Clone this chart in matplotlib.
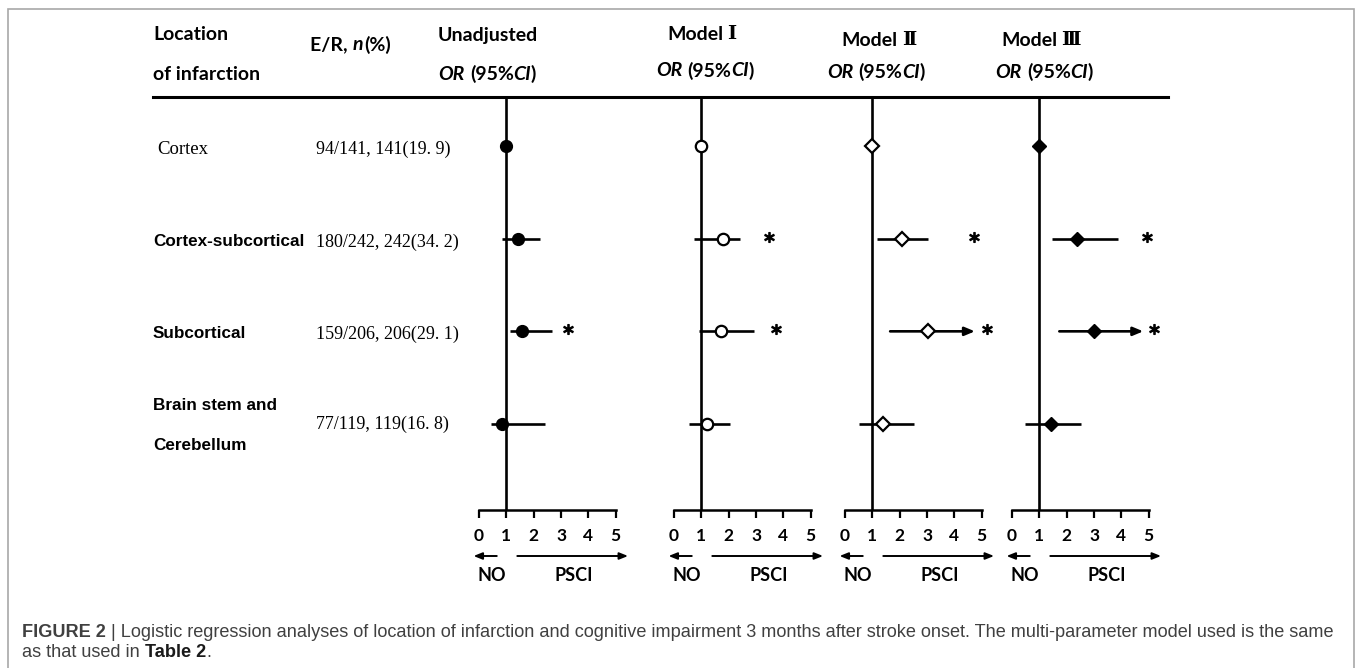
import matplotlib
matplotlib.use("Agg")
import matplotlib.pyplot as plt
from matplotlib.lines import Line2D
from matplotlib.patches import Rectangle

# ---------------- data ----------------
locations = ["Cortex", "Cortex-subcortical", "Subcortical", "Brain stem and\nCerebellum"]
er_text = ["94/141, 141(19. 9)", "180/242, 242(34. 2)", "159/206, 206(29. 1)", "77/119, 119(16. 8)"]
models = ["Unadjusted", "Model Ⅰ", "Model Ⅱ", "Model Ⅲ"]

# odds ratios (reference = 1), CI lower/upper (None for reference)
or_unadj = [1.0, 1.43, 1.58, 0.85]
lo_unadj = [None, 0.85, 1.15, 0.43]
hi_unadj = [None, 2.22, 2.67, 2.40]

or_m1 = [1.0, 1.78, 1.73, 1.19]
lo_m1 = [None, 0.72, 0.91, 0.56]
hi_m1 = [None, 2.42, 2.92, 2.04]

or_m2 = [1.0, 2.07, 3.05, 1.39]
lo_m2 = [None, 1.18, 1.65, 0.50]
hi_m2 = [None, 3.05, 4.75, 2.51]

or_m3 = [1.0, 2.38, 2.99, 1.44]
lo_m3 = [None, 1.47, 1.73, 0.47]
hi_m3 = [None, 3.89, 4.80, 2.53]

truncated_m2 = [False, False, True, False]
truncated_m3 = [False, False, True, False]
no_trunc = [False, False, False, False]

# significance stars (x position of the star, None = not significant)
star_unadj = [None, None, 3.25, None]
star_m1 = [None, 3.48, 3.73, None]
star_m2 = [None, 4.71, 5.21, None]
star_m3 = [None, 4.92, 5.18, None]

ticks = [0, 1, 2, 3, 4, 5]

# ---------------- layout ----------------
W, H = 1359, 668
fig = plt.figure(figsize=(W / 100, H / 100), dpi=100)
fig.patch.set_facecolor("white")


def fx(x):
    return x / W


def fy(y):
    return 1 - y / H


HEAD = ["Lato", "DejaVu Serif"]
SERIF = ["Liberation Serif"]
SANS = ["Liberation Sans"]

# outer border
fig.add_artist(Rectangle((fx(8), fy(700)), fx(1354) - fx(8), fy(9) - fy(700),
                         transform=fig.transFigure, fill=False,
                         edgecolor="#a8a8a8", lw=1.2))

# header rule
fig.add_artist(Line2D([fx(153), fx(1168)], [fy(97), fy(97)],
                      transform=fig.transFigure, color="black", lw=2.2))

renderer = fig.canvas.get_renderer()


def rich(xc, yc, pieces, size, ha="center", va="center", color="black"):
    """pieces: list of (text, weight, style, family, extra_gap_before)"""
    arts = []
    widths = []
    for (s, weight, style, fam, g) in pieces:
        t = fig.text(0, 0, s, fontsize=size, fontweight=weight, fontstyle=style,
                     family=fam, va=va, ha="left", color=color,
                     transform=fig.transFigure)
        w = t.get_window_extent(renderer).width
        arts.append((t, g))
        widths.append(w)
    total = sum(widths) + sum(g for (_, g) in arts)
    x = xc - total / 2 if ha == "center" else xc
    for (t, g), w in zip(arts, widths):
        x += g
        t.set_position((fx(x), fy(yc)))
        x += w
    return arts


# header texts
hs = 14
rich(153, 35, [("Location", "bold", "normal", HEAD, 0)], hs, ha="left")
rich(153, 74, [("of infarction", "bold", "normal", HEAD, 0)], hs, ha="left")
rich(310, 45, [("E/R, ", "bold", "normal", HEAD, 0), ("n", "bold", "italic", HEAD, 0),
               ("(%)", "bold", "normal", HEAD, 1)], hs, ha="left")

head_x = [488, 702, 879, 1041]
head_y = [35, 34, 40, 40]
or_x = [487, 705, 876, 1044]
or_y = [74, 71, 72, 72]
for m, hx, hy, ox, oy in zip(models, head_x, head_y, or_x, or_y):
    if " " in m:
        a, b = m.split(" ")
        rich(hx, hy, [(a, "bold", "normal", HEAD, 0), (b, "bold", "normal", ["DejaVu Serif"], 4)], hs)
    else:
        rich(hx, hy, [(m, "bold", "normal", HEAD, 0)], hs)
    rich(ox, oy, [("OR", "bold", "italic", HEAD, 0), ("(95%", "bold", "normal", HEAD, 5),
                  ("CI", "bold", "italic", HEAD, 0), (")", "bold", "normal", HEAD, -1)], hs)

# row labels
row_y = [146, 242, 334, 424]
fig.text(fx(157), fy(row_y[0] + 3), locations[0], family=SERIF, fontsize=13.5,
         va="center", ha="left")
for i in (1, 2):
    fig.text(fx(153), fy(row_y[i]), locations[i], family=SANS, fontsize=12.3,
             fontweight="bold", va="center", ha="left")
l1, l2 = locations[3].split("\n")
fig.text(fx(153), fy(405), l1, family=SANS, fontsize=12.3, fontweight="bold",
         va="center", ha="left")
fig.text(fx(153), fy(446), l2, family=SANS, fontsize=12.3, fontweight="bold",
         va="center", ha="left")
for i, s in enumerate(er_text):
    fig.text(fx(316), fy(row_y[i] + 3 if i == 0 else row_y[i]), s, family=SERIF,
             fontsize=13, va="center", ha="left")

# panels
panel_x0 = [479, 674, 845, 1012]
S = 27.35
R0, RSTEP = 146, 92.67
TOP, BOT = 97, 510


def py(p):
    return (p - R0) / RSTEP


panels = [
    (or_unadj, lo_unadj, hi_unadj, no_trunc, star_unadj, dict(marker="o", mfc="black", mec="black", ms=8.5)),
    (or_m1, lo_m1, hi_m1, no_trunc, star_m1, dict(marker="o", mfc="white", mec="black", ms=8.2, mew=1.6)),
    (or_m2, lo_m2, hi_m2, truncated_m2, star_m2, dict(marker="D", mfc="white", mec="black", ms=7.4, mew=1.6)),
    (or_m3, lo_m3, hi_m3, truncated_m3, star_m3, dict(marker="D", mfc="black", mec="black", ms=7.6)),
]

XL, XR = -0.8, 5.8
for (orv, lo, hi, trunc, stars, mk), x0 in zip(panels, panel_x0):
    left = x0 + XL * S
    width = (XR - XL) * S
    ax = fig.add_axes([fx(left), fy(BOT), width / W, (BOT - TOP) / H])
    ax.set_xlim(XL, XR)
    ax.set_ylim(py(BOT), py(TOP))
    ax.patch.set_visible(False)
    for sp in ("top", "left", "right"):
        ax.spines[sp].set_visible(False)
    ax.spines["bottom"].set_bounds(0, 5)
    ax.spines["bottom"].set_linewidth(1.8)
    ax.set_yticks([])
    ax.set_xticks(ticks)
    ax.set_xticklabels([str(t) for t in ticks], fontweight="bold", family="Lato",
                       fontsize=12.5)
    ax.tick_params(axis="x", direction="out", length=6, width=1.6, pad=7)
    ax.axvline(1, color="black", lw=1.9, zorder=1)

    for i in range(len(orv)):
        if lo[i] is not None:
            if trunc[i]:
                ax.annotate("", xy=(hi[i], i), xytext=(lo[i], i),
                            arrowprops=dict(arrowstyle="-|>,head_length=0.6,head_width=0.25",
                                            lw=1.9, color="black", shrinkA=0, shrinkB=0),
                            zorder=2)
            else:
                ax.plot([lo[i], hi[i]], [i, i], color="black", lw=1.9, zorder=2,
                        solid_capstyle="butt")
        ax.plot([orv[i]], [i], linestyle="none", zorder=3, clip_on=False, **mk)
        if stars[i] is not None:
            ax.plot([stars[i]], [i - 0.02], marker="$*$", color="black", ms=7,
                    linestyle="none", clip_on=False)

    # direction arrows and labels
    ya = py(556)
    ax.annotate("", xy=(-0.2, ya), xytext=(0.65, ya), annotation_clip=False,
                arrowprops=dict(arrowstyle="-|>,head_length=0.5,head_width=0.2",
                                lw=1.4, color="black", shrinkA=0, shrinkB=0))
    ax.annotate("", xy=(5.45, ya), xytext=(1.4, ya), annotation_clip=False,
                arrowprops=dict(arrowstyle="-|>,head_length=0.5,head_width=0.2",
                                lw=1.4, color="black", shrinkA=0, shrinkB=0))
    yl = py(576)
    ax.text(0.45, yl, "NO", ha="center", va="center", fontweight="bold",
            family="Lato", fontsize=13, clip_on=False)
    ax.text(3.45, yl, "PSCI", ha="center", va="center", fontweight="bold",
            family="Lato", fontsize=13, clip_on=False)

# caption
CAP = 13.05
cap_col = "#404040"
rich(22, 637, [("FIGURE 2", "bold", "normal", SANS, 0),
               (" | Logistic regression analyses of location of infarction and cognitive impairment "
                "3 months after stroke onset. The multi-parameter model used is the same",
                "normal", "normal", SANS, 0)], CAP, ha="left", va="baseline", color=cap_col)
arts = rich(22, 657, [("as that used in ", "normal", "normal", SANS, 0),
                      ("Table 2", "bold", "normal", SANS, 0),
                      (".", "normal", "normal", SANS, 0)], CAP, ha="left", va="baseline",
            color=cap_col)
arts[1][0].set_color("#1a1a1a")

fig.savefig("out.png", dpi=100)
